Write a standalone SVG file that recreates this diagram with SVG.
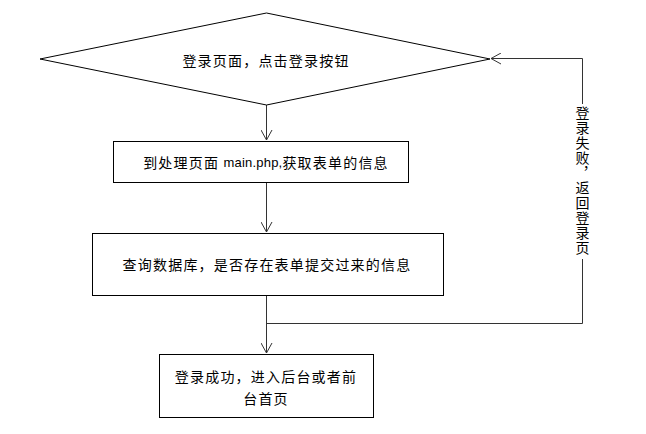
<svg xmlns="http://www.w3.org/2000/svg" width="646" height="434" viewBox="0 0 646 434">
<style>
.shape{fill:#fff;stroke:#000;stroke-width:1}
.t{font-family:"Noto Sans CJK SC","Liberation Sans",sans-serif;font-size:14px;fill:#000;text-anchor:middle;dominant-baseline:central;letter-spacing:1.2px}
.c{fill:none;stroke:#333;stroke-width:1}
</style>
<defs>
<marker id="a" markerWidth="12" markerHeight="12" refX="10" refY="6" orient="auto" markerUnits="userSpaceOnUse">
<polyline points="0,0.5 10,6 0,11.5" fill="none" stroke="#333" stroke-width="1"/>
</marker>
</defs>
<rect width="646" height="434" fill="#fff"/>
<g id="connectors">
<line class="c" x1="266.5" y1="105" x2="266.5" y2="140" marker-end="url(#a)"/>
<line class="c" x1="266.5" y1="183" x2="266.5" y2="232" marker-end="url(#a)"/>
<line class="c" x1="266.5" y1="295" x2="266.5" y2="353" marker-end="url(#a)"/>
<polyline class="c" points="266.5,323.5 582.5,323.5 582.5,58.5 491,58.5" marker-end="url(#a)"/>
<rect x="574" y="104" width="17" height="155" fill="#fff"/>
<text class="t" x="582.5" y="181" style="writing-mode:vertical-rl;letter-spacing:1px">登录失败，返回登录页</text>
</g>
<g id="n1">
<polygon class="shape" points="266.5,13 490,59 266.5,105 40,59"/>
<text class="t" x="266" y="60">登录页面，点击登录按钮</text>
</g>
<g id="n2">
<rect class="shape" x="113.5" y="141.5" width="295" height="41"/>
<text class="t" x="266" y="162" style="letter-spacing:1.2px">到处理页面 <tspan style="font-family:'Liberation Sans',sans-serif;font-size:13px;letter-spacing:0.2px">main.php,</tspan>获取表单的信息</text>
</g>
<g id="n3">
<rect class="shape" x="92.5" y="233.5" width="351" height="62"/>
<text class="t" x="267" y="264">查询数据库，是否存在表单提交过来的信息</text>
</g>
<g id="n4">
<rect class="shape" x="159.5" y="354.5" width="214" height="63"/>
<text class="t" x="266" y="376">登录成功，进入后台或者前</text>
<text class="t" x="266" y="398">台首页</text>
</g>
</svg>
